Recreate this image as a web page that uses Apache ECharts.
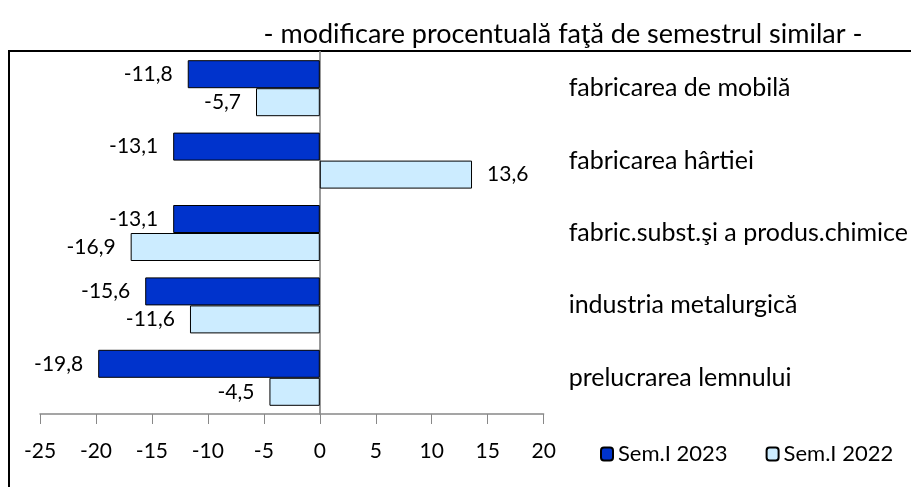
<!DOCTYPE html>
<html>
<head>
<meta charset="utf-8">
<script src="https://cdn.jsdelivr.net/npm/echarts@6/dist/echarts.min.js"></script>
<style>
    html, body { margin: 0; padding: 0; background: #fff; }
    #chart { width: 911px; height: 487px; }
</style>
</head>
<body>
<div id="chart"></div>
<script>
var categories = ['fabricarea de mobilă', 'fabricarea hârtiei', 'fabric.subst.şi a produs.chimice',
                  'industria metalurgică', 'prelucrarea lemnului'];
var sem2023 = [-11.8, -13.1, -13.1, -15.6, -19.8];
var sem2022 = [-5.7, 13.6, -16.9, -11.6, -4.5];
var seriesNames = ['Sem.I 2023', 'Sem.I 2022'];
var colors = ['#0033CC', '#CCECFF'];
var fontName = 'Lato, "Open Sans", sans-serif';

// eticheta in stanga pentru valori negative, in dreapta pentru pozitive
function barData(values) {
    return values.map(function (v) {
        return { value: v, label: { position: v < 0 ? 'left' : 'right' } };
    });
}

function fmt(p) {
    return String(p.value.toFixed(1)).replace('.', ',');
}

var myChart = echarts.init(document.getElementById('chart'));
myChart.setOption({
    animation: false,
    textStyle: { fontFamily: fontName },
    title: {
        text: '- modificare procentuală faţă de semestrul similar -',
        left: 558,
        textAlign: 'center',
        top: 16,
        textStyle: { fontSize: 27, fontWeight: 'normal', color: '#000', fontFamily: fontName }
    },
    graphic: [{
        type: 'rect',
        shape: { x: 9, y: 51, width: 1000, height: 1000 },
        style: { fill: 'none', stroke: '#000', lineWidth: 2 }
    }],
    grid: { left: 40, right: 367, top: 52, bottom: 73 },
    legend: {
        data: seriesNames,
        left: 595,
        top: 438,
        itemWidth: 12,
        itemHeight: 13,
        itemGap: 38,
        textStyle: { fontSize: 22, color: '#000', fontFamily: fontName }
    },
    xAxis: {
        type: 'value',
        min: -25,
        max: 20,
        interval: 5,
        splitLine: { show: false },
        axisLine: { show: true, onZero: false, lineStyle: { color: '#888', width: 1.5 } },
        axisTick: { show: true, length: 10, lineStyle: { color: '#888' } },
        axisLabel: { color: '#000', fontSize: 21, margin: 27 }
    },
    yAxis: [{
        type: 'category',
        data: categories,
        inverse: true,
        axisLine: { show: true, onZero: true, lineStyle: { color: '#999', width: 2 } },
        axisTick: { show: false },
        axisLabel: { show: false }
    }, {
        type: 'category',
        data: categories,
        inverse: true,
        position: 'right',
        axisLine: { show: false },
        axisTick: { show: false },
        axisLabel: { color: '#000', fontSize: 25, align: 'left', margin: 25 }
    }],
    series: [{
        name: seriesNames[0],
        type: 'bar',
        data: barData(sem2023),
        barWidth: 28,
        barGap: '0%',
        itemStyle: { color: colors[0], borderColor: '#000', borderWidth: 1 },
        label: { show: true, distance: 15, color: '#000', fontSize: 21, formatter: fmt }
    }, {
        name: seriesNames[1],
        type: 'bar',
        data: barData(sem2022),
        barWidth: 28,
        barGap: '0%',
        itemStyle: { color: colors[1], borderColor: '#000', borderWidth: 1 },
        label: { show: true, distance: 15, color: '#000', fontSize: 21, formatter: fmt }
    }]
});
</script>
</body>
</html>
